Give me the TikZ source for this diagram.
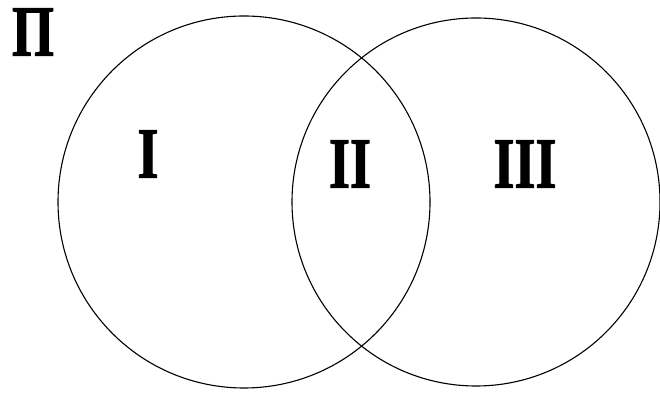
\documentclass[tikz,border=0pt]{standalone}
\usepackage{fontspec}
\setmainfont{Liberation Serif}
\newfontfamily\narrowserif[FakeStretch=0.75, FakeBold=1.5]{Liberation Serif Bold}
\begin{document}
\begin{tikzpicture}[x=1pt, y=1pt,
    venn/.style={circle, draw, line width=1.1pt, inner sep=0pt},
    region/.style={font=\narrowserif\fontsize{72}{72}\selectfont, inner sep=0pt}]
    \useasboundingbox (0,0) rectangle (660,395);
    \node [venn, minimum size=372pt] (left) at (244,193) {};
    \node [venn, minimum size=368pt] (right) at (476,193) {};
    \node [region] (univ) at (33,363) {Π};
    \node [region] (one) at (148,241) {I};
    \node [region] (two) at (350,231) {II};
    \node [region] (three) at (525,231) {III};
\end{tikzpicture}
\end{document}
